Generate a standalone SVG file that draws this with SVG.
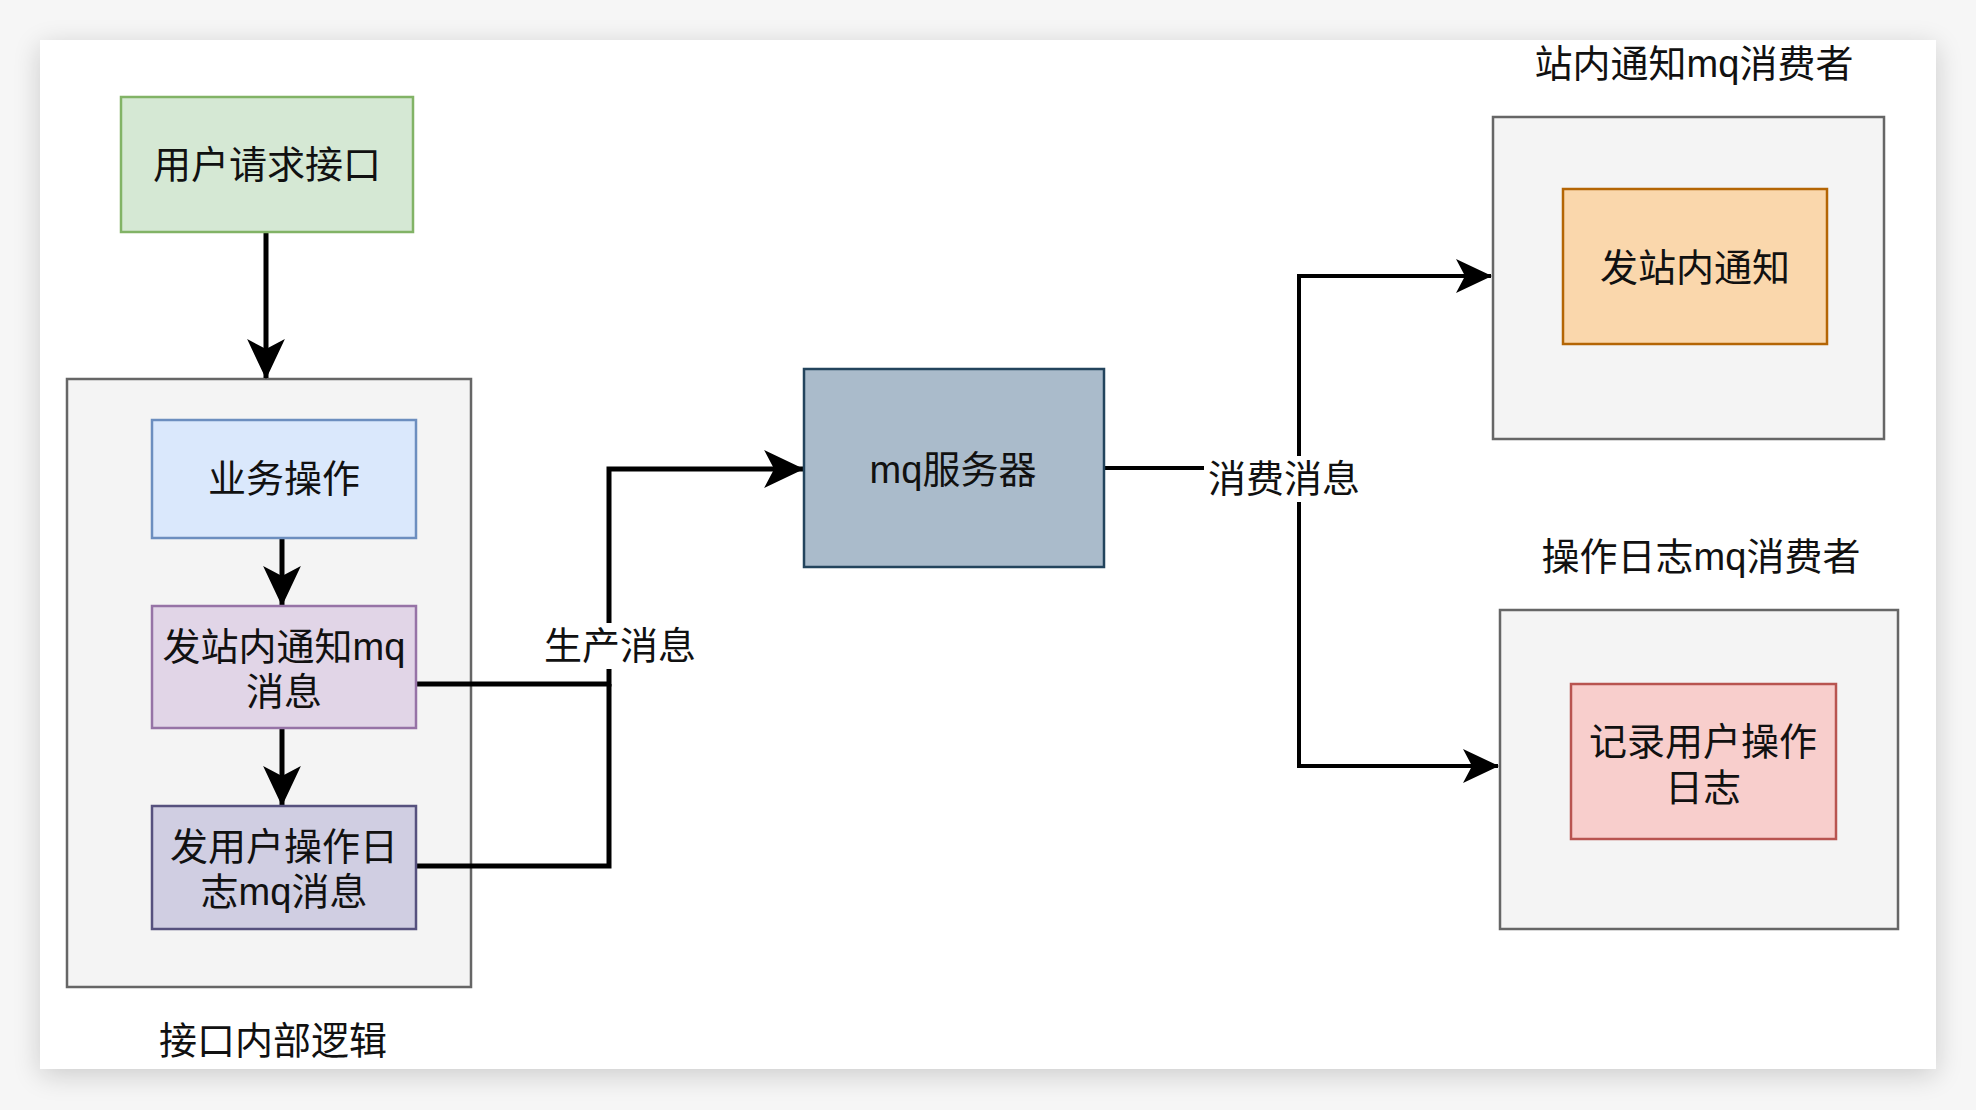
<svg xmlns="http://www.w3.org/2000/svg" width="1976" height="1110" viewBox="0 0 1976 1110">
<defs>
<filter id="shadow" x="-5%" y="-5%" width="110%" height="110%">
<feGaussianBlur in="SourceAlpha" stdDeviation="14"/>
<feOffset dx="0" dy="6"/>
<feComponentTransfer><feFuncA type="linear" slope="0.18"/></feComponentTransfer>
<feMerge><feMergeNode/><feMergeNode in="SourceGraphic"/></feMerge>
</filter>
<marker id="arr" markerUnits="userSpaceOnUse" markerWidth="40" markerHeight="40" viewBox="0 0 36 34" refX="35" refY="17" orient="auto">
<path d="M0,0 L36,17 L0,34 L9,17 Z" fill="#000"/>
</marker>
<marker id="arrS" markerUnits="userSpaceOnUse" markerWidth="36" markerHeight="36" viewBox="0 0 36 34" refX="35" refY="17" orient="auto">
<path d="M0,0 L36,17 L0,34 L9,17 Z" fill="#000"/>
</marker>
</defs>
<style>
text{font-family:"Liberation Sans","Noto Sans CJK SC",sans-serif;font-size:38px;fill:#111;text-anchor:middle;dominant-baseline:central}
.cont{fill:#f4f4f4;stroke:#666;stroke-width:2.5}
.edge{fill:none;stroke:#000;stroke-width:5}
.edge2{fill:none;stroke:#000;stroke-width:4}
.lbl{fill:#fff}
</style>
<rect width="1976" height="1110" fill="#f6f6f6"/>
<rect x="40" y="40" width="1896" height="1029" fill="#fff" filter="url(#shadow)"/>

<g id="api-internal">
<rect class="cont" x="67" y="379" width="404" height="608"/>
<text x="273" y="1041">接口内部逻辑</text>
</g>

<g id="notice-consumer">
<text x="1694" y="64">站内通知mq消费者</text>
<rect class="cont" x="1493" y="117" width="391" height="322"/>
</g>

<g id="log-consumer">
<text x="1701" y="557">操作日志mq消费者</text>
<rect class="cont" x="1500" y="610" width="398" height="319"/>
</g>

<g id="connectors">
<path class="edge" d="M266,232 L266,378" marker-end="url(#arr)"/>
<path class="edge" d="M282,538 L282,605" marker-end="url(#arr)"/>
<path class="edge" d="M282,728 L282,805" marker-end="url(#arr)"/>
<path class="edge" d="M416,684 L609,684 L609,469 L803,469" marker-end="url(#arr)"/>
<path class="edge" d="M416,866 L609,866 L609,684"/>
<path class="edge2" d="M1104,468 L1299,468 L1299,276 L1491,276" marker-end="url(#arrS)"/>
<path class="edge2" d="M1299,468 L1299,766 L1498,766" marker-end="url(#arrS)"/>
<rect class="lbl" x="540" y="623" width="160" height="46"/>
<text x="620" y="646">生产消息</text>
<rect class="lbl" x="1204" y="456" width="160" height="46"/>
<text x="1284" y="479">消费消息</text>
</g>

<g id="user-request">
<rect x="121" y="97" width="292" height="135" fill="#d5e8d4" stroke="#82b366" stroke-width="2.5"/>
<text x="267" y="165">用户请求接口</text>
</g>

<g id="business">
<rect x="152" y="420" width="264" height="118" fill="#dae8fc" stroke="#6c8ebf" stroke-width="2.5"/>
<text x="284" y="479">业务操作</text>
</g>

<g id="send-notice-mq">
<rect x="152" y="606" width="264" height="122" fill="#e1d5e7" stroke="#9673a6" stroke-width="2.5"/>
<text x="284" y="647">发站内通知mq</text>
<text x="284" y="692">消息</text>
</g>

<g id="send-log-mq">
<rect x="152" y="806" width="264" height="123" fill="#d0cee2" stroke="#56517e" stroke-width="2.5"/>
<text x="284" y="847">发用户操作日</text>
<text x="284" y="892">志mq消息</text>
</g>

<g id="mq-server">
<rect x="804" y="369" width="300" height="198" fill="#aabbcb" stroke="#23445d" stroke-width="2.5"/>
<text x="953" y="470">mq服务器</text>
</g>

<g id="notice-send">
<rect x="1563" y="189" width="264" height="155" fill="#fad7ac" stroke="#b46504" stroke-width="2.5"/>
<text x="1695" y="268">发站内通知</text>
</g>

<g id="log-record">
<rect x="1571" y="684" width="265" height="155" fill="#f8cecc" stroke="#b85450" stroke-width="2.5"/>
<text x="1703" y="742">记录用户操作</text>
<text x="1703" y="788">日志</text>
</g>
</svg>
